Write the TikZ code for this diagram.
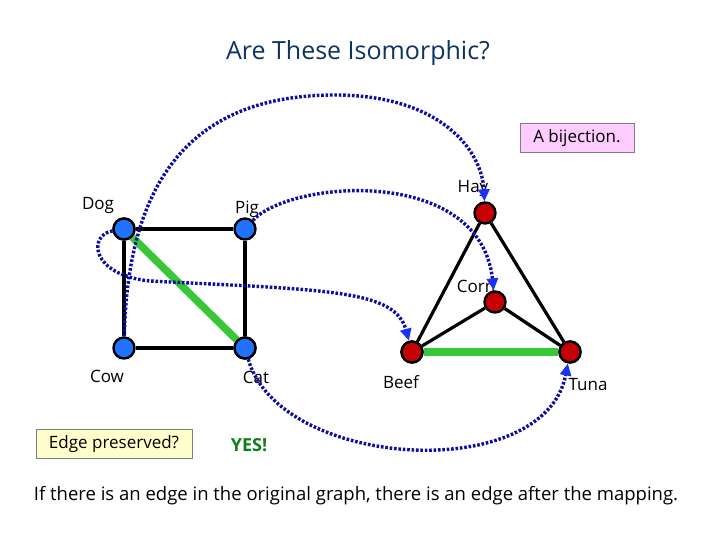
\documentclass[tikz,border=0pt]{standalone}
\usepackage{fontspec}
\setmainfont{Open Sans}
\usetikzlibrary{positioning}
\usetikzlibrary{arrows.meta}
\definecolor{nblue}{rgb}{0.12, 0.45, 1}
\definecolor{nred}{rgb}{0.78, 0, 0.02}
\definecolor{mapblue}{rgb}{0.05, 0.05, 0.62}
\definecolor{tipblue}{rgb}{0.1, 0.2, 0.95}
\definecolor{egreen}{rgb}{0.22, 0.78, 0.22}
\definecolor{yesgreen}{rgb}{0.05, 0.5, 0.1}
\definecolor{titleblue}{rgb}{0.05, 0.2, 0.38}
\definecolor{pinkbox}{rgb}{1, 0.8, 1}
\definecolor{yellowbox}{rgb}{1, 1, 0.8}
\tikzset{vtx/.style = {circle, draw, line width = 2.4pt, inner sep = 0, minimum size = 21pt}}
\tikzset{lbl/.style = {font = \fontsize{17}{20}\selectfont}}
\tikzset{edge/.style = {line width = 3.2pt}}
\tikzset{good/.style = {line width = 7.5pt, egreen}}
\tikzset{mapto/.style = {mapblue, line width = 3.4pt, dash pattern = on 2.6pt off 1.8pt,
    -{Triangle[length = 12pt, width = 11pt, color = tipblue]}}}
\tikzset{note/.style = {draw = gray, line width = 1pt, inner sep = 0, minimum height = 29pt,
    font = \fontsize{17}{20}\selectfont}}

\begin{document}
\begin{tikzpicture}[x = 1pt, y = -1pt]
      \useasboundingbox (0, 0) rectangle (720, 540);
      \node [font = \fontsize{25}{30}\selectfont, titleblue] (title) at (358, 53) {Are These Isomorphic?};
      % first graph
      \node [vtx, fill = nblue] (dog) at (124, 229) {};
      \node [vtx, fill = nblue] (pig) at (245, 229) {};
      \node [vtx, fill = nblue] (cow) at (124, 348) {};
      \node [vtx, fill = nblue] (cat) at (245, 348) {};
      \draw [edge] (dog) -- (pig) -- (cat) -- (cow) -- (dog);
      \draw [good] (dog) -- (cat);
      \node [vtx, fill = nblue] at (dog) {};
      \node [vtx, fill = nblue] at (cat) {};
      % second graph
      \node [vtx, fill = nred] (hay) at (485, 213) {};
      \node [vtx, fill = nred] (corn) at (495, 302) {};
      \node [vtx, fill = nred] (beef) at (412, 352) {};
      \node [vtx, fill = nred] (tuna) at (570, 352) {};
      \draw [edge] (hay) -- (beef) -- (corn) -- (tuna) -- (hay);
      \draw [good] (beef) -- (tuna);
      \node [vtx, fill = nred] at (beef) {};
      \node [vtx, fill = nred] at (tuna) {};
      % labels
      \node [lbl] (dogl) at (98, 205) {Dog};
      \node [lbl] (pigl) at (247, 209) {Pig};
      \node [lbl] (cowl) at (107, 376) {Cow};
      \node [lbl] (catl) at (256, 377) {Cat};
      \node [lbl] (hayl) at (473, 188) {Hay};
      \node [lbl] (cornl) at (476, 286) {Corn};
      \node [lbl] (beefl) at (401, 382) {Beef};
      \node [lbl] (tunal) at (588, 385) {Tuna};
      % the bijection
      \draw [mapto] (cow) .. controls (128, 170) and (200, 95) .. (335, 95)
            .. controls (440, 95) and (482, 150) .. (hay);
      \draw [mapto] (pig) .. controls (290, 180) and (480, 165) .. (corn);
      \draw [mapto] (dog) .. controls (88, 235) and (90, 275) .. (150, 281)
            .. controls (330, 290) and (395, 290) .. (beef);
      \draw [mapto] (cat) .. controls (280, 470) and (545, 485) .. (tuna);
      % notes
      \node [note, fill = pinkbox, minimum width = 114pt] (bij) at (577, 138) {A bijection.};
      \node [note, fill = yellowbox, minimum width = 156pt] (pres) at (114, 444) {Edge preserved?};
      \node [font = \bfseries\fontsize{18}{21}\selectfont, yesgreen] (yes) at (249, 445) {YES!};
      \node [font = \fontsize{18.5}{22}\selectfont] (rule) at (356, 496)
            {If there is an edge in the original graph, there is an edge after the mapping.};
    \end{tikzpicture}
\end{document}
